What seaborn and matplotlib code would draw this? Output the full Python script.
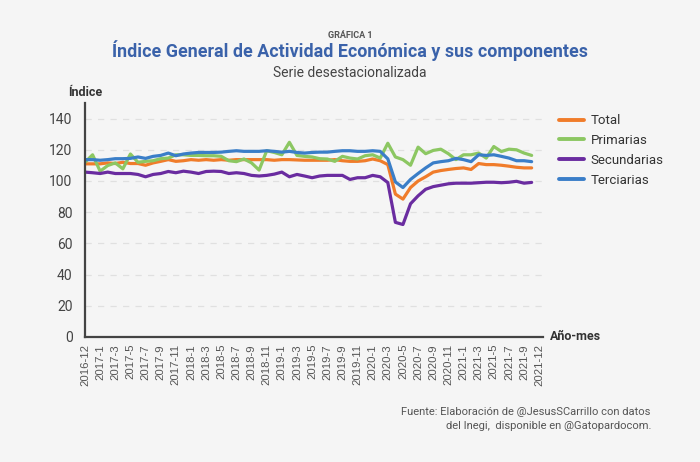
import numpy as np
import pandas as pd
import matplotlib
matplotlib.use("Agg")
import matplotlib.pyplot as plt
import seaborn as sns

# ---------------- data ----------------
tick_labels = ['2016-12', '2017-1', '2017-3', '2017-5', '2017-7', '2017-9', '2017-11',
               '2018-1', '2018-3', '2018-5', '2018-7', '2018-9', '2018-11',
               '2019-1', '2019-3', '2019-5', '2019-7', '2019-9', '2019-11',
               '2020-1', '2020-3', '2020-5', '2020-7', '2020-9', '2020-11',
               '2021-1', '2021-3', '2021-5', '2021-7', '2021-9', '2021-12']

series_names = ['Total', 'Primarias', 'Secundarias', 'Terciarias']

total = [111, 111, 111, 111.6, 111.2, 112, 111.2, 111.2, 110.1, 111.6,
         112.6, 113.7, 112.6, 113, 113.7, 113.3, 113.7, 113.3, 113.7, 113.3,
         113.7, 113.7, 113.7, 113.7, 113.7, 113.3, 113.7, 113.7, 113.5, 113.3,
         113.3, 113.3, 113.3, 113.7, 113, 112.6, 112.6, 113, 114.1, 113,
         110.5, 91.6, 88.4, 95.8, 100, 102.7, 105.7, 106.7, 107.4, 108,
         108.4, 107.4, 111.2, 110.5, 110.5, 110.1, 109.5, 108.8, 108.4, 108.4]

primarias = [112, 116.8, 106.3, 109.9, 111.6, 107.8, 117.3, 112, 112.6, 113,
             114.3, 114.7, 116.8, 116.8, 116.4, 116.4, 116.2, 116.2, 115.8, 113,
             112.4, 114.1, 111.6, 107, 119.4, 118.3, 116.8, 124.8, 116.4, 115.8,
             115.4, 114.3, 114.1, 112.6, 115.8, 114.7, 114.1, 116.2, 116.8, 114.7,
             124.2, 115.4, 113.7, 110.1, 121.7, 117.5, 119.6, 120.4, 117.5, 113.7,
             116.8, 116.8, 117.9, 114.7, 122.1, 118.9, 120.4, 120, 117.9, 116.4]

secundarias = [105.7, 105.3, 104.8, 105.7, 104.8, 104.8, 104.8, 104.2, 102.7, 104.2,
               104.8, 106.1, 105.3, 106.3, 105.7, 104.8, 106.1, 106.3, 106.1, 104.8,
               105.3, 104.8, 103.6, 103.2, 103.6, 104.4, 105.7, 102.7, 104.2, 103.2,
               102.1, 103.2, 103.6, 103.6, 103.6, 101, 102.1, 102.1, 103.6, 102.7,
               99, 73.5, 72.1, 85.4, 90.5, 94.7, 96.4, 97.3, 98.2, 98.6,
               98.6, 98.6, 98.9, 99.2, 99.2, 98.9, 99.2, 99.8, 98.6, 99.1]

terciarias = [113.7, 113.7, 113.3, 113.7, 114.3, 114.3, 114.5, 115.4, 114.5, 115.8,
              116.4, 117.9, 116.2, 117.3, 117.9, 118.3, 118.3, 118.3, 118.5, 119,
              119.4, 119, 119, 119, 119.4, 119, 118.5, 119, 118.3, 117.9,
              118.3, 118.5, 118.5, 119, 119.4, 119.4, 119, 119, 119.4, 119,
              114.2, 99.4, 95.8, 101, 104.8, 108.4, 111.6, 112.4, 113, 114.5,
              113.7, 112.4, 116.8, 116.4, 116.8, 115.8, 114.7, 113, 113, 112.4]

colors = {'Total': '#f07c2a', 'Primarias': '#8cc762', 'Secundarias': '#6a2ca0', 'Terciarias': '#3a7ec8'}

# ---------------- long table ----------------
frames = []
for name, vals in zip(series_names, [total, primarias, secundarias, terciarias]):
    frames.append(pd.DataFrame({'mes': np.arange(len(vals)), 'valor': vals, 'serie': name}))
df = pd.concat(frames, ignore_index=True)

# ---------------- style ----------------
sns.set_theme(style='white')
plt.rcParams['font.family'] = ['Roboto', 'DejaVu Sans']
bg = '#f5f5f5'

fig = plt.figure(figsize=(7, 4.62), dpi=100, facecolor=bg)
ax = fig.add_axes([85 / 700, 1 - 337 / 462, 458 / 700, 234 / 462])
ax.set_facecolor(bg)

sns.lineplot(data=df, x='mes', y='valor', hue='serie', hue_order=series_names,
             palette=colors, linewidth=2.3, ax=ax, legend=True)

ax.set_xlim(0, 60.5)
ax.set_ylim(0, 150)
ax.set_yticks([0, 20, 40, 60, 80, 100, 120, 140])
ax.set_xticks(np.arange(0, 61, 2))
ax.set_xticklabels(tick_labels, rotation=90, fontsize=8.2, color='#555555',
                   family=['Liberation Sans', 'DejaVu Sans'])
ax.tick_params(axis='y', labelsize=10, colors='#333333', length=7, width=1.4, pad=2)
ax.tick_params(axis='x', length=0, pad=5)
for lab in ax.get_yticklabels():
    lab.set_color('#444444')

for y in [20, 40, 60, 80, 100, 120, 140]:
    ax.axhline(y, color='#e0e0e0', lw=0.9, ls=(0, (5, 5)), zorder=0)

for s in ['top', 'right']:
    ax.spines[s].set_visible(False)
for s in ['left', 'bottom']:
    ax.spines[s].set_color('#444444')
    ax.spines[s].set_linewidth(1.6)

ax.set_xlabel('')
ax.set_ylabel('')

sns.move_legend(ax, loc='upper left', bbox_to_anchor=(1.035, 0.952), frameon=False,
                title=None, fontsize=9.5, handlelength=1.9, handletextpad=0.5,
                labelspacing=0.52, borderpad=0, borderaxespad=0)
leg = ax.get_legend()
for t in leg.get_texts():
    t.set_color('#333333')
for h in leg.get_lines():
    h.set_linewidth(2.8)

# ---------------- texts ----------------
fig.text(0.5, 1 - 35 / 462, 'GRÁFICA 1', ha='center', va='center', fontsize=6.5,
         fontweight='bold', color='#555555')
fig.text(0.5, 1 - 50.5 / 462, 'Índice General de Actividad Económica y sus componentes',
         ha='center', va='center', fontsize=12.9, fontweight='bold', color='#3a62aa')
fig.text(0.5, 1 - 73 / 462, 'Serie desestacionalizada', ha='center', va='center',
         fontsize=10, color='#444444')
fig.text(68 / 700, 1 - 92 / 462, 'Índice', ha='left', va='center', fontsize=9,
         fontweight='bold', color='#333333')
fig.text(550 / 700, 1 - 337 / 462, 'Año-mes', ha='left', va='center', fontsize=9,
         fontweight='bold', color='#333333')
fig.text(650 / 700, 1 - 412 / 462, 'Fuente: Elaboración de @JesusSCarrillo con datos',
         ha='right', va='center', fontsize=8, color='#555555')
fig.text(651 / 700, 1 - 426 / 462, 'del Inegi,  disponible en @Gatopardocom.',
         ha='right', va='center', fontsize=8, color='#555555')

fig.savefig('out.png', dpi=100, facecolor=bg)
